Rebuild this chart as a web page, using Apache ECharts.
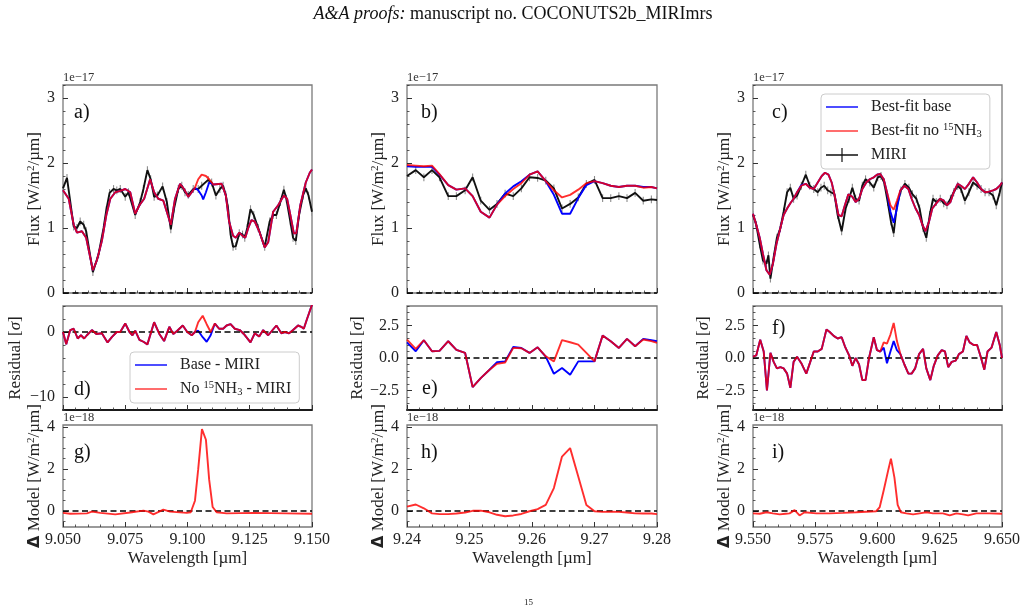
<!DOCTYPE html>
<html><head><meta charset="utf-8">
<script src="https://cdn.jsdelivr.net/npm/echarts@6/dist/echarts.min.js"></script>
<style>html,body{margin:0;padding:0;background:#fff}#c{width:1027px;height:612px}</style>
</head><body><div id="c"></div>
<script>
// ===================== DATA (flux in 1e-17, delta model in 1e-18) =====================
// Panel a) 9.05-9.15 um
const aMiri = [[9.0500,1.61],[9.0516,1.77],[9.0543,1.02],[9.0556,1.00],[9.0569,1.10],[9.0583,1.05],[9.0593,0.95],[9.0620,0.32],[9.0643,0.60],[9.0663,1.00],[9.0674,1.28],[9.0687,1.54],[9.0703,1.60],[9.0716,1.58],[9.0730,1.60],[9.0750,1.48],[9.0763,1.55],[9.0790,1.20],[9.0810,1.40],[9.0823,1.60],[9.0839,1.89],[9.0852,1.75],[9.0866,1.48],[9.0879,1.50],[9.0900,1.64],[9.0917,1.40],[9.0933,0.98],[9.0946,1.30],[9.0963,1.60],[9.0977,1.65],[9.0990,1.55],[9.1003,1.51],[9.1023,1.60],[9.1043,1.60],[9.1057,1.65],[9.1083,1.74],[9.1097,1.70],[9.1114,1.50],[9.1130,1.60],[9.1143,1.65],[9.1154,1.50],[9.1163,1.30],[9.1173,0.90],[9.1183,0.71],[9.1194,0.72],[9.1208,0.92],[9.1221,0.90],[9.1230,0.85],[9.1240,1.00],[9.1253,1.29],[9.1266,1.20],[9.1284,1.00],[9.1310,0.71],[9.1330,1.10],[9.1344,1.20],[9.1357,1.20],[9.1373,1.40],[9.1387,1.59],[9.1397,1.45],[9.1413,1.10],[9.1424,0.85],[9.1435,0.80],[9.1448,1.20],[9.1464,1.50],[9.1475,1.61],[9.1486,1.50],[9.1500,1.25]];
const aBase = [[9.0500,1.58],[9.0523,1.45],[9.0543,1.05],[9.0556,0.93],[9.0576,0.95],[9.0593,0.85],[9.0620,0.35],[9.0636,0.50],[9.0656,0.80],[9.0674,1.20],[9.0690,1.45],[9.0710,1.55],[9.0730,1.57],[9.0750,1.60],[9.0770,1.55],[9.0790,1.22],[9.0807,1.35],[9.0826,1.45],[9.0850,1.75],[9.0866,1.55],[9.0883,1.45],[9.0903,1.42],[9.0933,1.05],[9.0950,1.45],[9.0970,1.68],[9.0986,1.60],[9.1003,1.48],[9.1017,1.55],[9.1030,1.62],[9.1043,1.58],[9.1057,1.50],[9.1063,1.44],[9.1074,1.55],[9.1087,1.70],[9.1103,1.67],[9.1137,1.68],[9.1154,1.50],[9.1167,1.10],[9.1183,0.88],[9.1194,0.85],[9.1208,0.93],[9.1221,0.88],[9.1232,0.85],[9.1244,1.00],[9.1257,1.12],[9.1270,1.10],[9.1288,0.95],[9.1310,0.70],[9.1324,0.78],[9.1344,1.25],[9.1364,1.35],[9.1387,1.50],[9.1400,1.45],[9.1413,1.20],[9.1427,0.92],[9.1437,0.92],[9.1453,1.35],[9.1475,1.70],[9.1491,1.85],[9.1500,1.90]];
const aNo15 = [[9.0500,1.58],[9.0523,1.45],[9.0543,1.05],[9.0556,0.93],[9.0576,0.95],[9.0593,0.85],[9.0620,0.35],[9.0636,0.50],[9.0656,0.80],[9.0674,1.20],[9.0690,1.45],[9.0710,1.55],[9.0730,1.57],[9.0750,1.60],[9.0770,1.55],[9.0790,1.22],[9.0807,1.35],[9.0826,1.45],[9.0850,1.75],[9.0866,1.55],[9.0883,1.45],[9.0903,1.42],[9.0933,1.05],[9.0950,1.45],[9.0970,1.68],[9.0986,1.60],[9.1003,1.48],[9.1017,1.55],[9.1030,1.62],[9.1043,1.75],[9.1057,1.82],[9.1063,1.82],[9.1074,1.80],[9.1087,1.75],[9.1103,1.67],[9.1137,1.68],[9.1154,1.50],[9.1167,1.10],[9.1183,0.88],[9.1194,0.85],[9.1208,0.93],[9.1221,0.88],[9.1232,0.85],[9.1244,1.00],[9.1257,1.12],[9.1270,1.10],[9.1288,0.95],[9.1310,0.70],[9.1324,0.78],[9.1344,1.25],[9.1364,1.35],[9.1387,1.50],[9.1400,1.45],[9.1413,1.20],[9.1427,0.92],[9.1437,0.92],[9.1453,1.35],[9.1475,1.70],[9.1491,1.85],[9.1500,1.90]];
const aResBase = [[9.0500,0.0],[9.0513,-1.9],[9.0529,0.3],[9.0543,0.5],[9.0559,-1.0],[9.0572,-0.5],[9.0585,-1.0],[9.0596,-0.5],[9.0616,0.3],[9.0634,-0.3],[9.0656,-0.2],[9.0679,-1.6],[9.0696,-0.8],[9.0716,0.0],[9.0730,0.0],[9.0750,1.3],[9.0767,0.0],[9.0779,-0.5],[9.0790,0.2],[9.0807,-1.2],[9.0823,-1.5],[9.0839,-1.9],[9.0866,1.5],[9.0887,-0.3],[9.0906,-1.4],[9.0927,0.8],[9.0943,-0.3],[9.0959,0.2],[9.0981,1.0],[9.0999,0.0],[9.1017,-0.5],[9.1030,0.0],[9.1043,0.2],[9.1061,-0.8],[9.1077,-1.5],[9.1093,-0.5],[9.1110,1.3],[9.1127,0.5],[9.1143,0.5],[9.1157,1.0],[9.1173,1.2],[9.1190,0.5],[9.1210,0.3],[9.1226,-0.3],[9.1253,-1.6],[9.1270,-0.2],[9.1288,-0.7],[9.1304,0.3],[9.1324,-0.5],[9.1357,1.0],[9.1377,-0.2],[9.1391,0.0],[9.1408,-0.2],[9.1424,0.3],[9.1444,1.0],[9.1457,0.8],[9.1467,0.5],[9.1480,2.0],[9.1500,4.2]];
const aResNo15 = [[9.0500,0.0],[9.0513,-1.9],[9.0529,0.3],[9.0543,0.5],[9.0559,-1.0],[9.0572,-0.5],[9.0585,-1.0],[9.0596,-0.5],[9.0616,0.3],[9.0634,-0.3],[9.0656,-0.2],[9.0679,-1.6],[9.0696,-0.8],[9.0716,0.0],[9.0730,0.0],[9.0750,1.3],[9.0767,0.0],[9.0779,-0.5],[9.0790,0.2],[9.0807,-1.2],[9.0823,-1.5],[9.0839,-1.9],[9.0866,1.5],[9.0887,-0.3],[9.0906,-1.4],[9.0927,0.8],[9.0943,-0.3],[9.0959,0.2],[9.0981,1.0],[9.0999,0.0],[9.1017,-0.5],[9.1030,0.0],[9.1043,1.5],[9.1061,2.5],[9.1077,1.2],[9.1093,0.0],[9.1110,1.3],[9.1127,0.5],[9.1143,0.5],[9.1157,1.0],[9.1173,1.2],[9.1190,0.5],[9.1210,0.3],[9.1226,-0.3],[9.1253,-1.6],[9.1270,-0.2],[9.1288,-0.7],[9.1304,0.3],[9.1324,-0.5],[9.1357,1.0],[9.1377,-0.2],[9.1391,0.0],[9.1408,-0.2],[9.1424,0.3],[9.1444,1.0],[9.1457,0.8],[9.1467,0.5],[9.1480,2.0],[9.1500,4.2]];
const aDelta = [[9.0500,-0.08],[9.0529,-0.12],[9.0596,-0.10],[9.0616,-0.02],[9.0650,-0.08],[9.0710,-0.15],[9.0770,-0.06],[9.0823,0.03],[9.0843,-0.02],[9.0863,-0.15],[9.0903,0.08],[9.0930,-0.02],[9.0997,-0.08],[9.1013,-0.05],[9.1030,0.50],[9.1043,2.00],[9.1058,3.90],[9.1074,3.40],[9.1087,1.50],[9.1101,0.20],[9.1117,-0.05],[9.1157,-0.10],[9.1264,-0.08],[9.1397,-0.10],[9.1500,-0.12]];

// Panel b) 9.24-9.28 um
const wB = [9.2400,9.2414,9.2427,9.2440,9.2452,9.2466,9.2479,9.2493,9.2505,9.2518,9.2532,9.2544,9.2557,9.2570,9.2583,9.2596,9.2609,9.2622,9.2635,9.2648,9.2661,9.2674,9.2687,9.2700,9.2713,9.2726,9.2739,9.2752,9.2765,9.2778,9.2791,9.2800];
const bMiri = [1.80,1.89,1.78,1.89,1.78,1.49,1.49,1.58,1.78,1.42,1.28,1.37,1.53,1.49,1.61,1.78,1.77,1.73,1.61,1.30,1.37,1.47,1.68,1.74,1.46,1.46,1.49,1.46,1.54,1.42,1.44,1.43];
const bBase = [1.95,1.94,1.94,1.94,1.82,1.66,1.59,1.61,1.49,1.25,1.16,1.36,1.53,1.64,1.72,1.82,1.87,1.72,1.51,1.22,1.22,1.46,1.66,1.72,1.69,1.65,1.63,1.65,1.65,1.63,1.63,1.61];
const bNo15 = [1.97,1.96,1.95,1.96,1.83,1.66,1.59,1.61,1.49,1.25,1.16,1.36,1.49,1.60,1.69,1.82,1.87,1.72,1.58,1.47,1.51,1.59,1.69,1.72,1.69,1.65,1.63,1.65,1.65,1.62,1.63,1.61];
const bResBase = [1.20,0.52,1.37,0.52,0.55,1.29,0.62,0.39,-2.24,-1.55,-0.90,-0.33,-0.26,0.85,0.77,0.39,0.82,0.10,-1.21,-0.77,-1.29,-0.26,-0.26,-0.26,1.73,1.29,0.77,1.47,0.90,1.47,1.37,1.29];
const bResNo15 = [1.42,0.70,1.37,0.52,0.55,1.29,0.62,0.39,-2.24,-1.55,-0.90,-0.45,-0.35,0.78,0.75,0.39,0.82,0.13,-0.26,1.37,1.21,1.03,0.40,-0.26,1.73,1.29,0.77,1.47,0.90,1.42,1.30,1.16];
const bDelta = [0.22,0.32,0.14,-0.10,-0.14,-0.14,-0.11,-0.06,0.02,0.03,-0.05,-0.17,-0.24,-0.20,-0.13,0.00,0.10,0.30,1.10,2.60,3.00,1.65,0.30,0.00,-0.03,-0.02,-0.03,-0.06,-0.10,-0.11,-0.11,-0.14];

// Panel c) 9.55-9.65 um
const cMiri = [[9.5500,1.20],[9.5513,1.05],[9.5527,0.75],[9.5540,0.50],[9.5554,0.45],[9.5562,0.58],[9.5570,0.22],[9.5583,0.55],[9.5596,0.85],[9.5610,1.00],[9.5623,1.25],[9.5637,1.55],[9.5650,1.62],[9.5663,1.45],[9.5677,1.50],[9.5694,1.65],[9.5712,1.82],[9.5728,1.65],[9.5744,1.60],[9.5760,1.55],[9.5773,1.62],[9.5786,1.65],[9.5800,1.58],[9.5813,1.55],[9.5827,1.52],[9.5840,1.20],[9.5856,0.95],[9.5872,1.30],[9.5886,1.45],[9.5899,1.62],[9.5912,1.45],[9.5926,1.42],[9.5939,1.65],[9.5952,1.75],[9.5969,1.70],[9.5985,1.62],[9.6001,1.78],[9.6014,1.80],[9.6027,1.70],[9.6041,1.40],[9.6054,1.10],[9.6065,0.92],[9.6078,1.35],[9.6094,1.58],[9.6110,1.68],[9.6126,1.62],[9.6140,1.52],[9.6156,1.45],[9.6169,1.30],[9.6183,1.00],[9.6196,0.85],[9.6210,1.20],[9.6223,1.45],[9.6236,1.40],[9.6252,1.45],[9.6266,1.38],[9.6279,1.35],[9.6293,1.45],[9.6306,1.55],[9.6322,1.65],[9.6335,1.60],[9.6351,1.42],[9.6367,1.55],[9.6384,1.70],[9.6400,1.65],[9.6416,1.60],[9.6432,1.55],[9.6448,1.55],[9.6464,1.50],[9.6477,1.35],[9.6491,1.55],[9.6500,1.70]];
const cBase = [[9.5500,1.22],[9.5513,1.05],[9.5527,0.85],[9.5540,0.60],[9.5554,0.35],[9.5567,0.28],[9.5580,0.45],[9.5594,0.75],[9.5610,1.00],[9.5623,1.20],[9.5637,1.30],[9.5650,1.38],[9.5663,1.45],[9.5677,1.55],[9.5694,1.66],[9.5712,1.68],[9.5728,1.62],[9.5744,1.60],[9.5760,1.70],[9.5776,1.80],[9.5789,1.85],[9.5803,1.82],[9.5816,1.70],[9.5829,1.48],[9.5843,1.20],[9.5856,1.18],[9.5869,1.35],[9.5883,1.52],[9.5899,1.48],[9.5912,1.40],[9.5926,1.45],[9.5939,1.60],[9.5955,1.70],[9.5969,1.75],[9.5985,1.78],[9.5998,1.82],[9.6011,1.83],[9.6025,1.75],[9.6038,1.55],[9.6052,1.25],[9.6065,1.08],[9.6078,1.30],[9.6092,1.58],[9.6108,1.65],[9.6124,1.60],[9.6137,1.45],[9.6153,1.30],[9.6167,1.20],[9.6180,1.05],[9.6193,0.95],[9.6207,1.10],[9.6220,1.30],[9.6236,1.38],[9.6252,1.45],[9.6266,1.42],[9.6279,1.35],[9.6293,1.40],[9.6306,1.55],[9.6322,1.68],[9.6335,1.65],[9.6351,1.60],[9.6367,1.68],[9.6384,1.78],[9.6400,1.70],[9.6416,1.60],[9.6432,1.55],[9.6448,1.56],[9.6464,1.58],[9.6477,1.60],[9.6491,1.65],[9.6500,1.70]];
const cNo15 = [[9.5500,1.22],[9.5513,1.05],[9.5527,0.85],[9.5540,0.60],[9.5554,0.35],[9.5567,0.28],[9.5580,0.45],[9.5594,0.75],[9.5610,1.00],[9.5623,1.20],[9.5637,1.30],[9.5650,1.38],[9.5663,1.45],[9.5677,1.55],[9.5694,1.65],[9.5712,1.68],[9.5728,1.62],[9.5744,1.60],[9.5760,1.70],[9.5776,1.80],[9.5789,1.85],[9.5803,1.82],[9.5816,1.70],[9.5829,1.48],[9.5843,1.20],[9.5856,1.18],[9.5869,1.35],[9.5883,1.52],[9.5899,1.48],[9.5912,1.40],[9.5926,1.45],[9.5939,1.60],[9.5955,1.70],[9.5969,1.75],[9.5985,1.78],[9.5998,1.82],[9.6011,1.83],[9.6025,1.75],[9.6038,1.55],[9.6052,1.35],[9.6065,1.28],[9.6078,1.42],[9.6092,1.58],[9.6108,1.65],[9.6124,1.60],[9.6137,1.45],[9.6153,1.30],[9.6167,1.20],[9.6180,1.05],[9.6193,0.95],[9.6207,1.10],[9.6220,1.30],[9.6236,1.38],[9.6252,1.45],[9.6266,1.42],[9.6279,1.35],[9.6293,1.40],[9.6306,1.55],[9.6322,1.68],[9.6335,1.65],[9.6351,1.60],[9.6367,1.68],[9.6384,1.78],[9.6400,1.70],[9.6416,1.60],[9.6432,1.55],[9.6448,1.56],[9.6464,1.58],[9.6477,1.60],[9.6491,1.65],[9.6500,1.70]];
const cResBase = [[9.5500,0.1],[9.5513,0.2],[9.5529,1.4],[9.5543,0.5],[9.5556,-2.5],[9.5570,0.4],[9.5583,-0.3],[9.5596,-0.8],[9.5610,-0.7],[9.5623,-0.8],[9.5637,-1.2],[9.5650,-2.3],[9.5663,-0.3],[9.5677,0.1],[9.5694,-0.4],[9.5714,-1.2],[9.5730,-0.3],[9.5744,0.5],[9.5760,0.5],[9.5776,0.7],[9.5795,2.2],[9.5808,2.0],[9.5824,1.7],[9.5840,1.5],[9.5856,1.6],[9.5869,0.9],[9.5886,0.2],[9.5899,-0.6],[9.5912,0.0],[9.5926,-0.5],[9.5939,-1.7],[9.5952,-1.7],[9.5966,0.0],[9.5985,1.6],[9.5998,0.6],[9.6011,0.5],[9.6025,0.8],[9.6038,-0.4],[9.6052,0.5],[9.6065,1.3],[9.6078,0.6],[9.6092,0.3],[9.6108,-0.5],[9.6124,-1.2],[9.6137,-1.2],[9.6151,-0.8],[9.6167,0.3],[9.6183,0.7],[9.6196,-0.8],[9.6212,-1.7],[9.6226,-0.6],[9.6242,0.2],[9.6258,0.6],[9.6271,0.5],[9.6284,-0.7],[9.6298,-0.3],[9.6314,-0.2],[9.6327,0.3],[9.6343,0.5],[9.6357,1.7],[9.6370,1.2],[9.6386,1.0],[9.6400,1.0],[9.6416,0.0],[9.6429,-0.9],[9.6442,0.5],[9.6458,0.8],[9.6477,2.0],[9.6491,1.0],[9.6500,0.0]];
const cResNo15 = [[9.5500,0.1],[9.5513,0.2],[9.5529,1.4],[9.5543,0.5],[9.5556,-2.5],[9.5570,0.4],[9.5583,-0.3],[9.5596,-0.8],[9.5610,-0.7],[9.5623,-0.8],[9.5637,-1.2],[9.5650,-2.3],[9.5663,-0.3],[9.5677,0.1],[9.5694,-0.4],[9.5714,-1.2],[9.5730,-0.3],[9.5744,0.5],[9.5760,0.5],[9.5776,0.7],[9.5795,2.2],[9.5808,2.0],[9.5824,1.7],[9.5840,1.5],[9.5856,1.6],[9.5869,0.9],[9.5886,0.2],[9.5899,-0.6],[9.5912,0.0],[9.5926,-0.5],[9.5939,-1.7],[9.5952,-1.7],[9.5966,0.0],[9.5985,1.6],[9.5998,0.6],[9.6011,0.5],[9.6025,1.2],[9.6038,1.1],[9.6052,1.8],[9.6065,2.7],[9.6078,1.3],[9.6092,0.3],[9.6108,-0.5],[9.6124,-1.2],[9.6137,-1.2],[9.6151,-0.8],[9.6167,0.3],[9.6183,0.7],[9.6196,-0.8],[9.6212,-1.7],[9.6226,-0.6],[9.6242,0.2],[9.6258,0.6],[9.6271,0.5],[9.6284,-0.7],[9.6298,-0.3],[9.6314,-0.2],[9.6327,0.3],[9.6343,0.5],[9.6357,1.7],[9.6370,1.2],[9.6386,1.0],[9.6400,1.0],[9.6416,0.0],[9.6429,-0.9],[9.6442,0.5],[9.6458,0.8],[9.6477,2.0],[9.6491,1.0],[9.6500,0.0]];
const cDelta = [[9.5500,-0.10],[9.5527,-0.12],[9.5554,-0.05],[9.5580,-0.10],[9.5607,-0.15],[9.5631,-0.12],[9.5647,-0.10],[9.5667,0.05],[9.5687,-0.20],[9.5707,-0.05],[9.5754,-0.10],[9.5808,-0.10],[9.5861,-0.08],[9.5915,-0.05],[9.5995,0.00],[9.6009,0.20],[9.6025,1.00],[9.6044,2.00],[9.6054,2.50],[9.6068,1.60],[9.6081,0.30],[9.6094,-0.05],[9.6116,-0.10],[9.6143,-0.15],[9.6169,-0.10],[9.6196,-0.05],[9.6223,-0.10],[9.6263,-0.10],[9.6290,-0.20],[9.6317,-0.10],[9.6343,-0.15],[9.6364,-0.20],[9.6397,-0.10],[9.6450,-0.10],[9.6500,-0.12]];

const miriSigma = 0.06;
const panelLetters = ['a)','b)','c)','d)','e)','f)','g)','h)','i)'];
const titleText = '{i|A&A proofs:} manuscript no. COCONUTS2b_MIRImrs';

// ===================== LAYOUT / STYLE =====================
const SERIF = "'Liberation Serif','DejaVu Serif',serif";
const BLUE = '#0000ff', RED = 'rgba(255,0,0,0.82)', BLACK = '#111';
const FRAME = '#7a7a7a';
const zip = (xs, ys) => xs.map((x, i) => [x, ys[i]]);
function range(a, b, s) { const o = []; const n = Math.round((b - a) / s); for (let i = 0; i <= n; i++) o.push(Math.round((a + i * s) * 1e6) / 1e6); return o; }

const cols = [
  {left: 63, width: 249, min: 9.05, max: 9.15, step: 0.025, mstep: 0.005, dec: 3},
  {left: 407, width: 250, min: 9.24, max: 9.28, step: 0.01, mstep: 0.002, dec: 2},
  {left: 753, width: 249, min: 9.55, max: 9.65, step: 0.025, mstep: 0.005, dec: 3}];
const rows = [{top: 85, height: 208}, {top: 306, height: 104}, {top: 425, height: 102}];
function ycfg(r, c) {
  if (r === 0) return {min: 0, max: 3.2, major: [0, 1, 2, 3], minor: range(0, 3.2, 0.2), fmt: v => String(v), name: 'Flux [W/m{sup|2}/µm]', gap: 11};
  if (r === 1 && c === 0) return {min: -12, max: 4, major: [-10, 0], minor: range(-12, 4, 2), fmt: v => v === 0 ? '0' : '−10', name: 'Residual [{it|σ}]', gap: 39};
  if (r === 1) return {min: -4, max: 4, major: [-2.5, 0, 2.5], minor: range(-4, 4, 0.5), fmt: v => v.toFixed(1).replace('-', '−'), name: 'Residual [{it|σ}]', gap: 39};
  return {min: -0.75, max: 4.1, major: [0, 2, 4], minor: range(-0.5, 4, 0.5), fmt: v => String(v), name: '{d|Δ} Model [W/m{sup|2}/µm]', gap: 11};
}
const nameRich = {sup: {fontSize: 11, fontFamily: SERIF, verticalAlign: 'top', lineHeight: 12, color: '#222'},
  it: {fontSize: 17, fontFamily: SERIF, fontStyle: 'italic', color: '#222'},
  d: {fontSize: 16, fontFamily: 'DejaVu Sans', fontWeight: 'bold', color: '#222'}};

const grid = [], xAxis = [], yAxis = [], series = [];
for (let r = 0; r < 3; r++) for (let c = 0; c < 3; c++) {
  const g = r * 3 + c, C = cols[c], R = rows[r], Y = ycfg(r, c);
  grid.push({left: C.left, top: R.top, width: C.width, height: R.height, show: true, borderColor: FRAME, borderWidth: 1.3, backgroundColor: 'rgba(0,0,0,0)'});
  const xMaj = range(C.min, C.max, C.step), xMin = range(C.min, C.max, C.mstep);
  xAxis.push({type: 'value', gridIndex: g, min: C.min, max: C.max, position: 'bottom',
    axisLine: {show: r === 1, onZero: false, lineStyle: {color: '#1a1a1a', width: 1.8}}, splitLine: {show: false},
    axisTick: {show: true, inside: true, length: 5, customValues: xMaj, lineStyle: {color: '#333', width: 1}},
    axisLabel: {show: r === 2, customValues: xMaj, formatter: v => v.toFixed(C.dec), margin: 5, fontFamily: SERIF, fontSize: 16, color: '#222'},
    name: r === 2 ? 'Wavelength [µm]' : '', nameLocation: 'middle', nameGap: 23,
    nameTextStyle: {fontFamily: SERIF, fontSize: 17, color: '#222'}});
  xAxis.push({type: 'value', gridIndex: g, min: C.min, max: C.max, position: 'bottom', axisLine: {show: false, onZero: false}, splitLine: {show: false},
    axisTick: {show: true, inside: true, length: 2.5, customValues: xMin, lineStyle: {color: '#333', width: 0.8}}, axisLabel: {show: false}});
  yAxis.push({type: 'value', gridIndex: g, min: Y.min, max: Y.max, position: 'left',
    axisLine: {show: false, onZero: false}, splitLine: {show: false},
    axisTick: {show: true, inside: true, length: 5, customValues: Y.major, lineStyle: {color: '#333', width: 1}},
    axisLabel: {show: true, customValues: Y.major, formatter: Y.fmt, margin: 8, fontFamily: SERIF, fontSize: 16, color: '#222'},
    name: Y.name, nameLocation: 'middle', nameGap: Y.gap, nameRotate: 90,
    nameTextStyle: {fontFamily: SERIF, fontSize: 17, color: '#222', rich: nameRich}});
  yAxis.push({type: 'value', gridIndex: g, min: Y.min, max: Y.max, position: 'left', axisLine: {show: false, onZero: false}, splitLine: {show: false},
    axisTick: {show: true, inside: true, length: 2.5, customValues: Y.minor, lineStyle: {color: '#333', width: 0.8}}, axisLabel: {show: false}});
}

const zeroLine = {silent: true, symbol: ['none', 'none'], label: {show: false}, animation: false,
  lineStyle: {color: '#000', type: [6, 3.5], width: 1.5}, data: [{yAxis: 0}]};
function line(name, data, g, color, z, extra) {
  return Object.assign({type: 'line', name, data, xAxisIndex: 2 * g, yAxisIndex: 2 * g, symbol: 'none', showSymbol: false,
    lineStyle: {color, width: 1.9}, itemStyle: {color}, z, silent: true, animation: false}, extra || {});
}
function errBars(data, g) {
  return {type: 'custom', name: 'MIRI err', data, xAxisIndex: 2 * g, yAxisIndex: 2 * g, silent: true, z: 2, animation: false,
    encode: {x: 0, y: 1}, clip: true,
    renderItem: (params, api) => {
      const x = api.value(0), y = api.value(1);
      const p = api.coord([x, y - miriSigma]), q = api.coord([x, y + miriSigma]);
      return {type: 'line', shape: {x1: p[0], y1: p[1], x2: q[0], y2: q[1]}, style: {stroke: '#8c8c8c', lineWidth: 1.1}};
    }};
}

const tops = [
  {miri: aMiri, base: aBase, no15: aNo15, rb: aResBase, rn: aResNo15, dm: aDelta},
  {miri: zip(wB, bMiri), base: zip(wB, bBase), no15: zip(wB, bNo15), rb: zip(wB, bResBase), rn: zip(wB, bResNo15), dm: zip(wB, bDelta)},
  {miri: cMiri, base: cBase, no15: cNo15, rb: cResBase, rn: cResNo15, dm: cDelta}];
tops.forEach((P, c) => {
  series.push(errBars(P.miri, c));
  series.push(line('MIRI', P.miri, c, BLACK, 3));
  series.push(line('Best-fit base', P.base, c, BLUE, 4));
  series.push(line('Best-fit no 15NH3', P.no15, c, RED, 5, {markLine: zeroLine}));
  series.push(line('Base - MIRI', P.rb, 3 + c, BLUE, 4));
  series.push(line('No 15NH3 - MIRI', P.rn, 3 + c, RED, 5, {markLine: zeroLine}));
  series.push(line('Delta model', P.dm, 6 + c, RED, 5, {markLine: zeroLine}));
});

const LEG = {'Best-fit base': 'Best-fit base', 'Best-fit no 15NH3': 'Best-fit no {sup|15}NH{sub|3}', 'MIRI': 'MIRI',
  'Base - MIRI': 'Base - MIRI', 'No 15NH3 - MIRI': 'No {sup|15}NH{sub|3} - MIRI'};
const legRich = {sup: {fontSize: 10.5, fontFamily: SERIF, verticalAlign: 'top', lineHeight: 11, color: '#222'},
  sub: {fontSize: 10.5, fontFamily: SERIF, verticalAlign: 'bottom', lineHeight: 11, color: '#222'}};
const LINE_ICON = 'path://M0,6.3H32V7.7H0Z';
const legBase = {orient: 'vertical', itemWidth: 32, itemHeight: 14, itemGap: 6, padding: [4, 8, 5, 5], selectedMode: false,
  backgroundColor: 'rgba(255,255,255,0.85)', borderColor: '#cccccc', borderWidth: 1, borderRadius: 4,
  formatter: n => LEG[n],
  textStyle: {fontFamily: SERIF, fontSize: 16, color: '#222', lineHeight: 18, padding: [0, 0, 0, 8], rich: legRich}};

const graphic = [
  {type: 'text', x: 513, y: 14, style: {text: titleText, fontFamily: SERIF, fontSize: 18, fill: '#111', align: 'center', verticalAlign: 'middle',
    rich: {i: {fontFamily: SERIF, fontSize: 18, fontStyle: 'italic', color: '#111'}}}},
  {type: 'text', x: 524, y: 603, style: {text: '15', fontFamily: SERIF, fontSize: 9, fill: '#222', align: 'left', verticalAlign: 'middle'}}];
const letterPos = [[74, 113], [421, 113], [772, 113], [74, 390], [422, 389], [772, 329], [74, 453], [421, 453], [772, 453]];
letterPos.forEach((p, i) => graphic.push({type: 'text', x: p[0], y: p[1], z: 10,
  style: {text: panelLetters[i], fontFamily: SERIF, fontSize: 20, fill: '#111', align: 'left', verticalAlign: 'middle'}}));
cols.forEach(C => {
  graphic.push({type: 'text', x: C.left, y: 78, style: {text: '1e−17', fontFamily: SERIF, fontSize: 12.5, fill: '#333', align: 'left', verticalAlign: 'middle'}});
  graphic.push({type: 'text', x: C.left, y: 418, style: {text: '1e−18', fontFamily: SERIF, fontSize: 12.5, fill: '#333', align: 'left', verticalAlign: 'middle'}});
});

const chart = echarts.init(document.getElementById('c'), null, {renderer: 'canvas'});
chart.setOption({
  animation: false, backgroundColor: '#fff',
  grid, xAxis, yAxis, series, graphic,
  legend: [
    Object.assign({}, legBase, {left: 821, top: 94, data: [{name: 'Best-fit base', icon: LINE_ICON}, {name: 'Best-fit no 15NH3', icon: LINE_ICON},
      {name: 'MIRI', icon: 'path://M0,6.3H32V7.7H0Z M15.4,0H16.6V14H15.4Z'}]}),
    Object.assign({}, legBase, {left: 130, top: 352, data: [{name: 'Base - MIRI', icon: LINE_ICON}, {name: 'No 15NH3 - MIRI', icon: LINE_ICON}]})
  ]
});
</script></body></html>
